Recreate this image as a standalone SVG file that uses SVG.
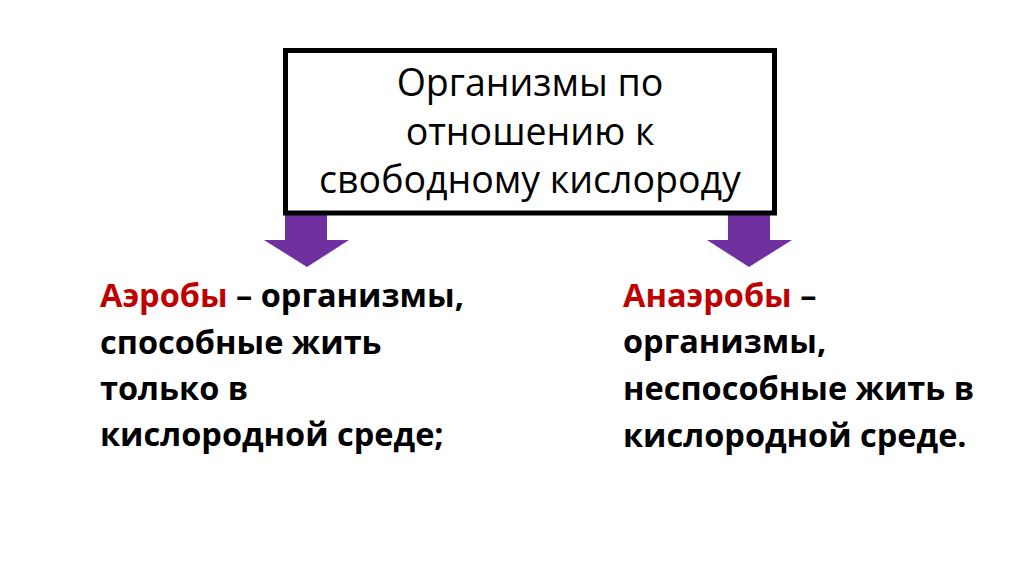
<svg xmlns="http://www.w3.org/2000/svg" width="1024" height="574" viewBox="0 0 1024 574">
<style>
.title{font-family:"Open Sans","DejaVu Sans",sans-serif;font-size:37.5px;fill:#000;text-anchor:middle}
.body{font-family:"Open Sans","DejaVu Sans",sans-serif;font-size:32.5px;font-weight:bold;fill:#000}
.red{fill:#C00000}
.arrow{fill:#7030A0}
</style>
<rect width="1024" height="574" fill="#fff"/>
<g id="connectors">
<polygon class="arrow" points="285,215 327,215 327,240 349,240 307,267 264,240 285,240"/>
<polygon class="arrow" points="728,215 770,215 770,240 792,240 749,267 707,240 728,240"/>
</g>
<g id="root">
<rect x="285.5" y="50.5" width="489" height="162.5" fill="#fff" stroke="#000" stroke-width="5"/>
<text class="title" x="530" y="96">Организмы по</text>
<text class="title" x="530" y="145">отношению к</text>
<text class="title" x="530" y="193">свободному кислороду</text>
</g>
<g id="aerobes">
<text class="body" x="100" y="307"><tspan class="red">Аэробы</tspan> – организмы,</text>
<text class="body" x="100" y="354">способные жить</text>
<text class="body" x="100" y="400">только в</text>
<text class="body" x="100" y="446">кислородной среде;</text>
</g>
<g id="anaerobes">
<text class="body" x="623" y="307"><tspan class="red">Анаэробы</tspan> –</text>
<text class="body" x="623" y="353">организмы,</text>
<text class="body" x="623" y="400">неспособные жить в</text>
<text class="body" x="623" y="447">кислородной среде.</text>
</g>
</svg>
